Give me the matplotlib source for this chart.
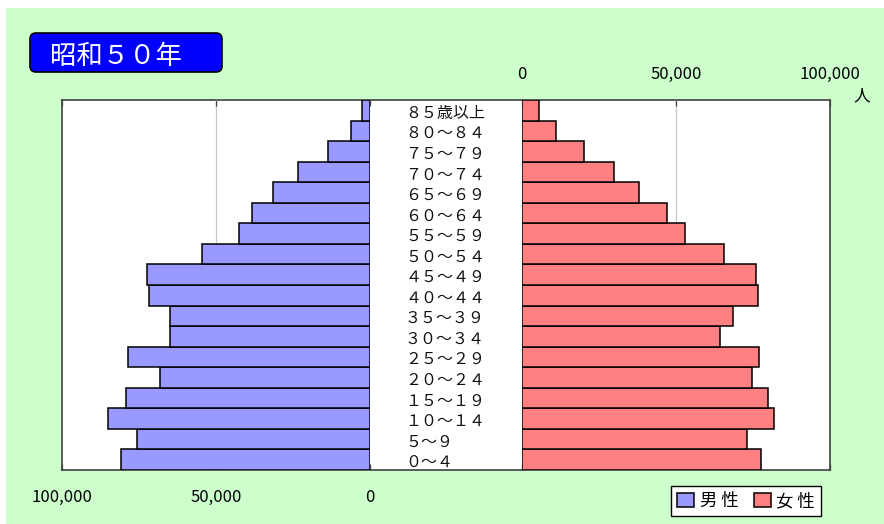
import numpy as np
import matplotlib
matplotlib.use("Agg")
import matplotlib.pyplot as plt
import matplotlib.transforms as mtransforms
from matplotlib.patches import Rectangle, FancyBboxPatch, Patch

plt.rcParams['font.family'] = ['Noto Sans CJK JP', 'DejaVu Sans']

# 年齢階級（下から上へ）
ages = ["0~4", "5~9", "10~14", "15~19", "20~24", "25~29", "30~34", "35~39",
        "40~44", "45~49", "50~54", "55~59", "60~64", "65~69", "70~74",
        "75~79", "80~84", "85歳以上"]
# 人数（図から読み取った推定値）
male = [81000, 75800, 85000, 79100, 68300, 78700, 64800, 64800, 71700,
        72400, 54500, 42400, 38400, 31400, 23400, 13700, 6300, 2700]
female = [77600, 73000, 81700, 80000, 74700, 77000, 64400, 68400, 76500,
          75900, 65500, 52900, 47100, 37900, 29800, 20100, 10900, 5500]
xticks = [0, 50000, 100000]
xtick_labels = ["0", "50,000", "100,000"]
title = "昭和５０年"
unit = "人"

c_male = "#9999FF"
c_female = "#FF8080"
W, H = 884, 524

# 半角数字と~を全角に
zen = str.maketrans("0123456789~", "０１２３４５６７８９～")

fig = plt.figure(figsize=(W / 100, H / 100), dpi=100, facecolor="white")
# 背景の緑
fig.patches.append(Rectangle((6 / W, 0), 1, (H - 8) / H, transform=fig.transFigure,
                             facecolor="#CCFFCC", edgecolor="none", zorder=-10))

bottom = (H - 470) / H
height = 370 / H

# 全体の白い枠
ax_bg = fig.add_axes([62 / W, bottom, (830 - 62) / W, height])
ax_bg.set_facecolor("white")
ax_bg.set_xticks([])
ax_bg.set_yticks([])
for s in ax_bg.spines.values():
    s.set_color("#404040")
    s.set_linewidth(1.2)

y = np.arange(len(ages))

def setup(ax, xlim):
    ax.set_xlim(*xlim)
    ax.set_ylim(-0.5, len(ages) - 0.5)
    ax.patch.set_alpha(0)
    for s in ax.spines.values():
        s.set_visible(False)
    ax.set_yticks([])
    ax.axvline(50000, color="#C8C8C8", lw=0.9, zorder=0)
    ax.tick_params(axis="x", direction="in", length=4, width=0.9, color="#404040",
                   top=True, bottom=True, labelsize=12)

# 男性（左）
ax_m = fig.add_axes([62 / W, bottom, 308 / W, height])
setup(ax_m, (100000, 0))
ax_m.barh(y, male, height=1.0, color=c_male, edgecolor="black", linewidth=1.1, zorder=2)
ax_m.set_xticks(xticks)
ax_m.set_xticklabels(xtick_labels)
ax_m.tick_params(axis="x", labeltop=False, labelbottom=True, pad=14)

# 女性（右）
ax_f = fig.add_axes([522 / W, bottom, 308 / W, height])
setup(ax_f, (0, 100000))
ax_f.barh(y, female, height=1.0, color=c_female, edgecolor="black", linewidth=1.1, zorder=2)
ax_f.set_xticks(xticks)
ax_f.set_xticklabels(xtick_labels)
ax_f.tick_params(axis="x", labeltop=True, labelbottom=False, pad=12)

# 年齢ラベル
trans = mtransforms.blended_transform_factory(fig.transFigure, ax_m.transData)
for yi, lab in zip(y, ages):
    ax_m.text(405 / W, yi - 0.14, lab.translate(zen), transform=trans, ha="left", va="center",
              fontsize=11.5, clip_on=False, color="#111111")

fig.text(862 / W, 1 - 96 / H, unit, ha="center", va="center", fontsize=12)

# タイトル
box = FancyBboxPatch((30 / 100, (H - 72) / 100), 192 / 100, 39 / 100,
                     boxstyle="round,pad=0,rounding_size=0.06",
                     transform=fig.dpi_scale_trans, facecolor="#0000FF",
                     edgecolor="black", linewidth=1.2)
fig.patches.append(box)
fig.text(50 / W, 1 - 57 / H, title, color="white", fontsize=19, ha="left", va="center")

# 凡例
handles = [Patch(facecolor=c_male, edgecolor="black", linewidth=1.1),
           Patch(facecolor=c_female, edgecolor="black", linewidth=1.1)]
leg = fig.legend(handles, ["男 性", "女 性"], ncol=2, loc="center",
                 bbox_to_anchor=(746 / W, 1 - 501 / H), frameon=True, fancybox=False,
                 edgecolor="black", framealpha=1, handlelength=1.0, handleheight=0.8,
                 handletextpad=0.3, columnspacing=0.9, borderpad=0.35, fontsize=12.5)
leg.get_frame().set_linewidth(1.0)

fig.savefig("out.png", dpi=100, facecolor=fig.get_facecolor())
